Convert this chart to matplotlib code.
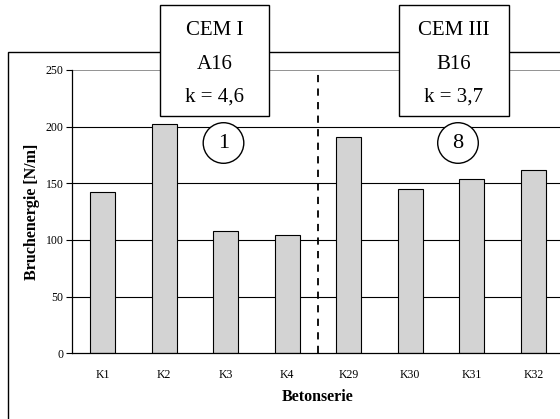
import matplotlib
matplotlib.use("Agg")
import matplotlib.pyplot as plt
from matplotlib.patches import Rectangle, Ellipse

plt.rcParams['font.family'] = ['Liberation Serif', 'DejaVu Serif']

categories = ["K1", "K2", "K3", "K4", "K29", "K30", "K31", "K32"]
energy = [142, 202, 108, 104, 191, 145, 154, 162]
y_ticks = [0, 50, 100, 150, 200, 250]
groups = [
    {"lines": ["CEM I", "A16", "k = 4,6"], "tag": "1"},
    {"lines": ["CEM III", "B16", "k = 3,7"], "tag": "8"},
]

W, H = 560, 419
fig = plt.figure(figsize=(W / 100, H / 100), dpi=100)


def fx(px):
    return px / W


def fy(py):
    return 1 - py / H


# outer chart frame (runs past the right and bottom edges)
fig.add_artist(Rectangle((fx(8.3), fy(440)), fx(600) - fx(8.3), fy(52.3) - fy(440),
                         transform=fig.transFigure, fill=False,
                         edgecolor='black', linewidth=1.0, zorder=1))

ax_left, ax_right, ax_top, ax_bottom = 72, 564, 70, 353.3
ax = fig.add_axes([fx(ax_left), fy(ax_bottom), fx(ax_right - ax_left),
                   fy(ax_top) - fy(ax_bottom)])
ax.set_zorder(2)
ax.patch.set_alpha(0)

x = list(range(len(categories)))
ax.bar(x, energy, width=0.4, color='#d3d3d3', edgecolor='black',
       linewidth=0.8, zorder=3)
ax.set_xlim(-0.5, len(categories) - 0.5)
ax.set_ylim(0, 250)

ax.set_yticks(y_ticks)
ax.set_yticklabels([str(t) for t in y_ticks], fontsize=8.5)
ax.set_xticks(x)
ax.set_xticklabels(categories, fontsize=8.5)
ax.tick_params(axis='y', length=4, width=0.8, pad=2, direction='out')
ax.tick_params(axis='x', length=0, pad=11)

for t in y_ticks[1:-1]:
    ax.axhline(t, color='black', linewidth=0.8, zorder=1)
ax.axhline(250, color='#808080', linewidth=1.2, zorder=1)

for s in ['top', 'right']:
    ax.spines[s].set_visible(False)
for s in ['left', 'bottom']:
    ax.spines[s].set_linewidth(0.9)
    ax.spines[s].set_zorder(4)

# separator between the two cement groups
ax.plot([3.5, 3.5], [0, 250], color='black', linewidth=1.3,
        linestyle=(0, (4, 3.5)), zorder=2)

ax.set_xlabel("Betonserie", fontsize=11.5, fontweight='bold', labelpad=6)
ax.set_ylabel("Bruchenergie [N/m]", fontsize=11.5, fontweight='bold', labelpad=4)

# group header boxes and numbered circles
box_x = [(160, 269), (399, 509)]
circle_cx = [223.5, 458]
for g, (x0, x1), cx in zip(groups, box_x, circle_cx):
    fig.add_artist(Rectangle((fx(x0), fy(116)), fx(x1 - x0), fy(5) - fy(116),
                             transform=fig.transFigure, facecolor='white',
                             edgecolor='black', linewidth=1.0, zorder=5))
    mid = (x0 + x1) / 2
    for line, base in zip(g["lines"], [35, 69, 102]):
        fig.text(fx(mid), fy(base), line, ha='center', va='baseline',
                 fontsize=15, zorder=6)
    r = 20.3
    fig.add_artist(Ellipse((fx(cx), fy(143)), 2 * r / W, 2 * r / H,
                           transform=fig.transFigure, facecolor='white',
                           edgecolor='black', linewidth=1.0, zorder=5))
    fig.text(fx(cx), fy(143), g["tag"], ha='center', va='center',
             fontsize=16, zorder=6)

fig.savefig("out.png", dpi=100)
